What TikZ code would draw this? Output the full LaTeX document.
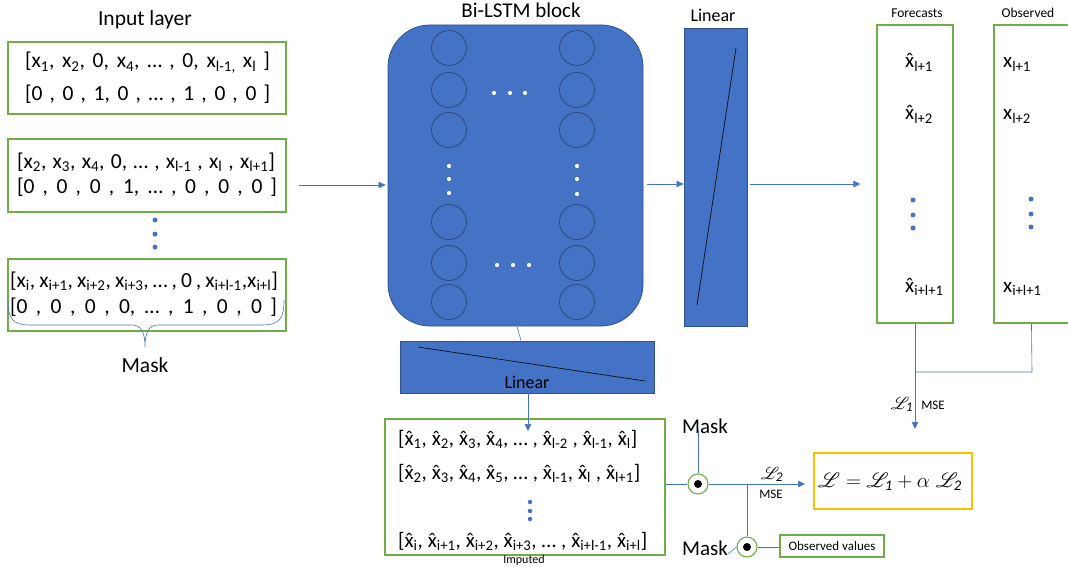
\documentclass[tikz,border=0pt]{standalone}
\usepackage{fontspec}
\setmainfont{Carlito}
\usepackage{mathrsfs}
\usetikzlibrary{arrows.meta,calc}

\definecolor{boxgreen}{HTML}{70AD47}
\definecolor{blockblue}{HTML}{4472C4}
\definecolor{blockedge}{HTML}{2F528F}
\definecolor{celledge}{HTML}{2B4578}
\definecolor{linkblue}{HTML}{4472C4}
\definecolor{lossorange}{HTML}{FFC000}

\newcommand{\setfs}[1]{\fontsize{#1}{#1}\selectfont}
\newcommand{\xv}[1]{x\textsubscript{#1}}
\newcommand{\xh}[1]{{\accent"02C6 x}\textsubscript{#1}}
\newcommand{\row}[2]{\makebox[#1pt][s]{#2}}

\tikzset{
  greenbox/.style={draw=boxgreen, line width=1.1pt, fill=white, inner sep=0pt},
  bluebox/.style={draw=blockedge, line width=0.8pt, fill=blockblue, inner sep=0pt},
  cell/.style={circle, draw=celledge, line width=0.7pt, minimum size=35pt, inner sep=0pt},
  link/.style={draw=linkblue, line width=0.6pt},
  arr/.style={link, -{Triangle[length=7pt,width=6.5pt]}},
  bdot/.style={circle, fill=linkblue, inner sep=0pt, minimum size=5pt},
  wdot/.style={circle, fill=white, inner sep=0pt, minimum size=4.2pt},
  maskdot/.style={circle, draw=boxgreen, line width=1.1pt, fill=white, minimum size=20pt, inner sep=0pt},
  txt/.style={inner sep=0pt, anchor=base},
  ltxt/.style={inner sep=0pt, anchor=base west},
}

\begin{document}
\begin{tikzpicture}[x=1pt, y=-1pt]
\useasboundingbox (0,0) rectangle (1068,567);

% ---------------- input layer ----------------
\node[txt] (tin) at (145,26) {\setfs{21.5}Input layer};
\node[greenbox, minimum width=278pt, minimum height=72pt] (in1) at (147,78) {};
\node[greenbox, minimum width=278pt, minimum height=73pt] (in2) at (147,175.5) {};
\node[greenbox, minimum width=278pt, minimum height=72pt] (in3) at (147,295) {};

\node[txt] (r11) at (147.5,68) {\setfs{21.5}\row{245}{[\xv{1}, \xv{2}, 0, \xv{4}, … , 0, \xv{l-1,} \xv{l} ]}};
\node[txt] (r12) at (147.5,101) {\setfs{21.5}\row{245}{[0 , 0 , 1, 0 , … , 1 , 0 , 0 ]}};
\node[txt] (r21) at (146,168) {\setfs{21.5}\row{258}{[\xv{2}, \xv{3}, \xv{4}, 0, … , \xv{l-1} , \xv{l} , \xv{l+1}]}};
\node[txt] (r22) at (147,193) {\setfs{21.5}\row{260}{[0 , 0 , 0 , 1, … , 0 , 0 , 0 ]}};
\node[txt] (r31) at (144,287) {\setfs{21.5}\row{268}{[\xv{i}, \xv{i+1}, \xv{i+2}, \xv{i+3}, … , 0 , \xv{i+l-1},\xv{i+l}]}};
\node[txt] (r32) at (143.5,313) {\setfs{21.5}\row{267}{[0 , 0 , 0 , 0, … , 1 , 0 , 0 ]}};

\node[bdot] (d1) at (155,220) {};
\node[bdot] (d2) at (155,234) {};
\node[bdot] (d3) at (155,247) {};

% brace marking the mask rows
\coordinate (bl) at (8,300);
\coordinate (br) at (284,300);
\coordinate (btip) at (145,347);
\draw[link] (bl) .. controls (8,318) and (12,325) .. (30,325) -- (132,325)
  .. controls (141,325) and (145,332) .. (btip)
  .. controls (145,332) and (149,325) .. (158,325) -- (262,325)
  .. controls (280,325) and (284,318) .. (br);
\node[txt] (tmask) at (145,372) {\setfs{21.5}Mask};

% ---------------- Bi-LSTM block ----------------
\node[txt] (tlstm) at (521,18) {\setfs{21}Bi-LSTM block};
\node[bluebox, rounded corners=42pt, minimum width=255pt, minimum height=301pt] (lstm) at (515.5,175.5) {};
\foreach \yy [count=\k] in {48,90,130,222,263,302} {
  \node[cell] (cl\k) at (449,\yy) {};
  \node[cell] (cr\k) at (577,\yy) {};
}
\foreach \xx/\yy [count=\k] in {494/93,510/93,525/93,497/265,513/265,529/265,
                               449/166,449/179,449/193,577/166,577/179,577/194} {
  \node[wdot] (w\k) at (\xx,\yy) {};
}

% ---------------- linear layers ----------------
\node[txt] (tlin) at (713,22) {\setfs{18}Linear};
\node[bluebox, minimum width=63pt, minimum height=298pt] (lin) at (715.5,177) {};
\coordinate (lina) at (736,48);
\coordinate (linb) at (697,305);
\draw[black, line width=0.6pt] (lina) -- (linb);

\node[bluebox, minimum width=254pt, minimum height=52pt] (linb2) at (527,367) {};
\coordinate (lin2a) at (418,347);
\coordinate (lin2b) at (645,381);
\draw[black, line width=0.6pt] (lin2a) -- (lin2b);
\node[txt] (tlin2) at (527,388) {\setfs{18}Linear};

% ---------------- forecasts / observed ----------------
\node[txt] (tfc) at (917,18) {\setfs{13.5}Forecasts};
\node[greenbox, minimum width=76pt, minimum height=298pt] (fc) at (915,174) {};
\node[ltxt] (f1) at (905,68) {\setfs{21}\xh{l+1}};
\node[ltxt] (f2) at (905,120) {\setfs{21}\xh{l+2}};
\node[ltxt] (f3) at (905,292) {\setfs{21}\xh{i+l+1}};
\node[bdot] (fd1) at (913,200) {};
\node[bdot] (fd2) at (913,215) {};
\node[bdot] (fd3) at (913,228) {};

\node[txt] (tob) at (1028,18) {\setfs{13.5}Observed};
\node[greenbox, minimum width=90pt, minimum height=298pt] (ob) at (1039,174) {};
\node[ltxt] (o1) at (1003,68) {\setfs{21}\xv{l+1}};
\node[ltxt] (o2) at (1003,120) {\setfs{21}\xv{l+2}};
\node[ltxt] (o3) at (1003,292) {\setfs{21}\xv{i+l+1}};
\node[bdot] (od1) at (1031,199) {};
\node[bdot] (od2) at (1031,214) {};
\node[bdot] (od3) at (1031,227) {};

% ---------------- imputed sequences ----------------
\node[greenbox, minimum width=280pt, minimum height=136pt] (imp) at (525,487) {};
\node[ltxt] (i1) at (398,445) {\setfs{21}\row{239}{[\xh{1}, \xh{2}, \xh{3}, \xh{4}, … , \xh{l-2} , \xh{l-1}, \xh{l}]}};
\node[ltxt] (i2) at (398,479) {\setfs{21}\row{242}{[\xh{2}, \xh{3}, \xh{4}, \xh{5}, … , \xh{l-1}, \xh{l} , \xh{l+1}]}};
\node[ltxt] (i3) at (398,547) {\setfs{21}\row{249}{[\xh{i}, \xh{i+1}, \xh{i+2}, \xh{i+3}, … , \xh{i+l-1}, \xh{i+l}]}};
\node[bdot, minimum size=4.5pt] (id1) at (530,502) {};
\node[bdot, minimum size=4.5pt] (id2) at (530,511) {};
\node[bdot, minimum size=4.5pt] (id3) at (530,519) {};
\node[txt] (timp) at (524,563) {\setfs{12}Imputed};

% ---------------- masking and losses ----------------
\node[txt] (m1) at (705,433) {\setfs{21}Mask};
\node[maskdot] (c1) at (698,484) {};
\node[circle, fill=black, minimum size=8pt, inner sep=0pt] (c1d) at (c1) {};
\node[txt] (m2) at (705,555) {\setfs{21}Mask};
\node[maskdot] (c2) at (747,547) {};
\node[circle, fill=black, minimum size=8pt, inner sep=0pt] (c2d) at (c2) {};
\node[draw=boxgreen, line width=1.1pt, minimum width=104pt, minimum height=22pt, inner sep=0pt] (obsv) at (832,546) {};
\node[txt] (tobsv) at (832,550) {\setfs{13}Observed values};

\node[draw=lossorange, line width=1.1pt, minimum width=158pt, minimum height=56pt, inner sep=0pt] (loss) at (893,481) {};
\node[txt] (tloss) at (890,487) {\setfs{21}$\mathscr{L} = \mathscr{L}_{\mathit{1}} + \alpha\;\mathscr{L}_{\mathit{2}}$};

\node[txt] (l1) at (902,409) {\setfs{19}$\mathscr{L}_{\mathit{1}}$};
\node[txt] (mse1) at (933,409) {\setfs{13}MSE};
\node[txt] (l2) at (772,479) {\setfs{19}$\mathscr{L}_{\mathit{2}}$};
\node[txt] (mse2) at (771,498) {\setfs{13}MSE};

% ---------------- connectors ----------------
\coordinate (lstmin) at ($(lstm.west)+(-2,9.5)$);
\draw[arr] ([xshift=12pt]in2.east |- lstmin) -- (lstmin);
\coordinate (lstmout) at ($(lstm.east)+(4,8.5)$);
\draw[arr] (lstmout) -- (lin.west |- lstmout);
\coordinate (fcin) at ($(fc.west)+(-16,10)$);
\draw[arr] ([xshift=3pt]lin.east |- fcin) -- (fcin);
\draw[link] ([xshift=1.5pt]lstm.south) -- ([xshift=-6pt]linb2.north);
\coordinate (impin) at (528,431);
\draw[arr] (linb2.south -| impin) -- (impin);

\draw[link] (imp.east |- c1) -- (c1.west);
\draw[link] ([yshift=3pt]m1.south -| c1) -- (c1.north);
\coordinate (l2tip) at (805,484);
\draw[arr] (c1.east) -- (l2tip);
\coordinate (br2) at (747,484);
\draw[link] (br2) -- (c2.north);
\draw[link] ([yshift=-6pt]m2.east) -- (c2.west);
\draw[link] (c2.east) -- ([yshift=-1pt]obsv.west);

\coordinate (l1tip) at (915,429);
\draw[arr] (fc.south) -- (l1tip);
\coordinate (obb) at ($(ob.south west)+(38,0)$);
\coordinate (obj) at (1032,372);
\draw[link] (obb) -- (obj) -- (obj -| fc.south);
\end{tikzpicture}
\end{document}
